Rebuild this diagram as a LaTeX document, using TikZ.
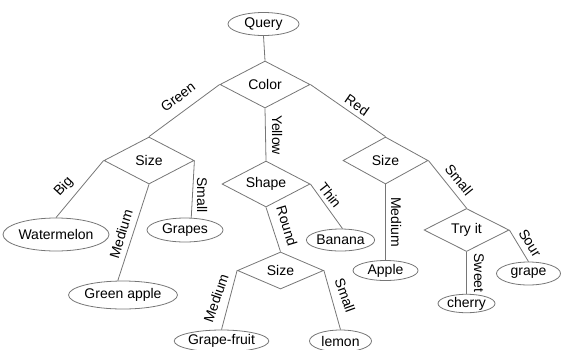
\documentclass[tikz,border=0pt]{standalone}
\usepackage{fontspec}
\setmainfont{Liberation Sans}
\usetikzlibrary{shapes.geometric}
\definecolor{linegray}{RGB}{118,118,118}
\newcommand\treefont{\fontsize{14}{16}\selectfont}
\tikzset{
  conn/.style={draw=linegray, line width=0.8pt},
  leaf/.style={ellipse, draw=linegray, line width=0.8pt, inner sep=0pt},
  test/.style={diamond, aspect=2, draw=linegray, line width=0.8pt, inner sep=0pt},
  lbl/.style={inner sep=0pt}
}
\begin{document}
\begin{tikzpicture}[x=1pt, y=-1pt, font=\treefont]
\useasboundingbox (0,0) rectangle (561,349);

% decision nodes
\node[test, minimum width=90pt, minimum height=47pt] (color) at (265,84.5) {Color};
\node[test, minimum width=90pt, minimum height=47pt] (sizeL) at (149,160.5) {Size};
\node[test, minimum width=88pt, minimum height=46pt] (shape) at (266,184) {Shape};
\node[test, minimum width=85pt, minimum height=47pt] (sizeR) at (385.5,160.5) {Size};
\node[test, minimum width=86pt, minimum height=37pt] (sizeS) at (280.5,270.5) {Size};
\node[test, minimum width=85pt, minimum height=43pt] (tryit) at (466.5,230) {Try it};

% root and leaves
\node[leaf, minimum width=71pt, minimum height=23pt] (query) at (263.5,24) {Query};
\node[leaf, minimum width=96pt, minimum height=33pt] (wm) at (56,234.5) {Watermelon};
\node[leaf, minimum width=104pt, minimum height=28pt] (ga) at (123,295) {Green apple};
\node[leaf, minimum width=76pt, minimum height=24pt] (grapes) at (185,230) {Grapes};
\node[leaf, minimum width=63pt, minimum height=22pt] (banana) at (340.5,240) {Banana};
\node[leaf, minimum width=65pt, minimum height=20pt] (apple) at (385.5,270.5) {Apple};
\node[leaf, minimum width=57pt, minimum height=17pt] (cherry) at (466.5,303.5) {cherry};
\node[leaf, minimum width=64pt, minimum height=23pt] (grape) at (528.5,273.5) {grape};
\node[leaf, minimum width=91pt, minimum height=22pt] (gf) at (221.5,341) {Grape-fruit};
\node[leaf, minimum width=62pt, minimum height=22pt] (lemon) at (340.5,341) {lemon};

% connectors
\draw[conn] (query.south) -- (color.north);
\draw[conn] (color.west) -- (sizeL.north);
\draw[conn] (color.south) -- (shape.north);
\draw[conn] (color.east) -- (sizeR.north);
\draw[conn] (sizeL.west) -- (wm.north);
\draw[conn] (sizeL.south) -- (ga.110);
\draw[conn] (sizeL.east) -- (grapes.63);
\draw[conn] (shape.south) -- (sizeS.north);
\draw[conn] (shape.east) -- (banana.80);
\draw[conn] (sizeS.west) -- (gf.north);
\draw[conn] (sizeS.east) -- (lemon.north);
\draw[conn] (sizeR.south) -- (apple.north);
\draw[conn] (sizeR.east) -- (tryit.north);
\draw[conn] (tryit.south) -- (cherry.north);
\draw[conn] (tryit.east) -- (grape.north);

% branch labels
\node[lbl, rotate=36.7] (lgreen) at (178,97) {Green};
\node[lbl, rotate=-90] (lyellow) at (277,135) {Yellow};
\node[lbl, rotate=-35] (lred) at (357,105) {Red};
\node[lbl, rotate=47] (lbig) at (64,187) {Big};
\node[lbl, rotate=73] (lmedga) at (121,234) {Medium};
\node[lbl, rotate=-90] (lsmallgr) at (202,195) {Small};
\node[lbl, rotate=-73] (lround) at (287,226) {Round};
\node[lbl, rotate=-52] (lthin) at (330,195) {Thin};
\node[lbl, rotate=71] (lmedgf) at (216,298) {Medium};
\node[lbl, rotate=-70] (lsmalllm) at (345,295) {Small};
\node[lbl, rotate=-90] (lmedap) at (396,222) {Medium};
\node[lbl, rotate=-51] (lsmalltr) at (459,180) {Small};
\node[lbl, rotate=-90] (lsweet) at (479,273) {Sweet};
\node[lbl, rotate=-58] (lsour) at (530,243) {Sour};
\end{tikzpicture}
\end{document}
